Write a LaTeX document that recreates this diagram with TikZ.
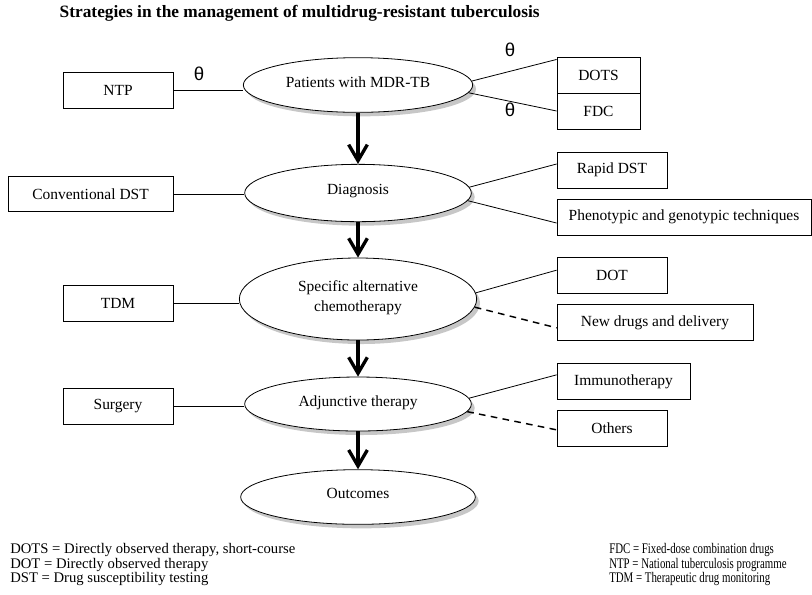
\documentclass[tikz,border=0pt]{standalone}
\usepackage{fontspec}
\setmainfont{Liberation Serif}
\newfontfamily\thetafont{Liberation Sans}
\newfontfamily\keyfont{Liberation Serif}[FakeStretch=0.74]
\usepackage{tikz}
\usetikzlibrary{shapes,arrows,positioning}
\usetikzlibrary{shadows}
\usetikzlibrary{arrows.meta}

\begin{document}
\begin{tikzpicture}[x=0.75pt, y=-0.75pt,
	box/.style={draw, rectangle, line width=0.6pt, minimum height=26.5pt, inner sep=0pt, font=\fontsize{11.6}{13}\selectfont},
	oval/.style={draw, ellipse, fill=white, line width=0.6pt, align=center, inner sep=0pt, text depth=5pt,
		drop shadow={shadow xshift=2.5pt, shadow yshift=-3pt, fill=black!22, opacity=1},
		font=\fontsize{11.6}{15}\selectfont},
	flow/.style={-{Straight Barb[length=12pt, width=14pt]}, line width=2.5pt},
	dashlink/.style={line width=1.1pt, dash pattern=on 5pt off 4pt},
	mark theta/.style={font=\thetafont\fontsize{14}{14}\selectfont},
	legend/.style={align=left, inner sep=0pt, font=\fontsize{11}{9}\selectfont}]
				\useasboundingbox (0,0) rectangle (812,594);
				% title
				\node [anchor=west, font=\bfseries\fontsize{13}{15}\selectfont] (title) at (55,13) {Strategies in the management of multidrug-resistant tuberculosis};
				% main column
				\node [oval, minimum width=172pt, minimum height=41pt]	(patients)	at (358,85)	{Patients with MDR-TB};
				\node [oval, minimum width=170pt, minimum height=43pt]	(diagnosis)	at (358,193)	{Diagnosis};
				\node [oval, minimum width=178pt, minimum height=61.5pt]	(chemo)	at (358,299)	{Specific alternative\\chemotherapy};
				\node [oval, minimum width=170pt, minimum height=40.5pt]	(adjunct)	at (358,404)	{Adjunctive therapy};
				\node [oval, minimum width=176pt, minimum height=41pt]	(outcomes)	at (358,497)	{Outcomes};
				% left boxes
				\node [box, minimum width=82.5pt]	(ntp)		at (118,90.5)	{NTP};
				\node [box, minimum width=123.75pt]	(convdst)	at (90.5,194)	{Conventional DST};
				\node [box, minimum width=82.5pt]	(tdm)		at (118,303.5)	{TDM};
				\node [box, minimum width=82.5pt]	(surgery)	at (118,406.5)	{Surgery};
				% right boxes
				\node [box, minimum width=62.25pt]	(dots)		at (598.5,75.5)	{DOTS};
				\node [box, minimum width=62.25pt, minimum height=27pt]	(fdc)	at (598.5,111)	{FDC};
				\node [box, minimum width=82.5pt, minimum height=27pt]	(rapid)	at (612,170)	{Rapid DST};
				\node [box, minimum width=190.5pt, minimum height=27pt]	(pheno)	at (684,217)	{Phenotypic and genotypic techniques};
				\node [box, minimum width=82.5pt]	(dot)		at (612,275.5)	{DOT};
				\node [box, minimum width=147pt]	(newdrugs)	at (655,322.5)	{New drugs and delivery};
				\node [box, minimum width=99.75pt]	(immuno)	at (623.5,381.5)	{Immunotherapy};
				\node [box, minimum width=82.5pt]	(others)	at (612,428.5)	{Others};
				% thetas
				\node [mark theta] (theta1) at (199,74)	{θ};
				\node [mark theta] (theta2) at (510,50)	{θ};
				\node [mark theta] (theta3) at (510,110)	{θ};
				% arrows
				\draw [flow] (patients) -- (diagnosis);
				\draw [flow] (diagnosis) -- (chemo);
				\draw [flow] (chemo) -- (adjunct);
				\draw [flow] (adjunct) -- (outcomes);
				% links on the left
				\draw [line width=0.6pt] (ntp.east) -- (ntp.east -| patients.west);
				\draw [line width=0.6pt] (convdst.east) -- (convdst.east -| diagnosis.west);
				\draw [line width=0.6pt] (tdm.east) -- (tdm.east -| chemo.west);
				\draw [line width=0.6pt] (surgery.east) -- (surgery.east -| adjunct.west);
				% links on the right
				\draw [line width=0.6pt] (patients.2) -- ([yshift=-1.5pt]dots.north west);
				\draw [line width=0.6pt] (patients.-4) -- (fdc.west);
				\draw [line width=0.6pt] (diagnosis.3) -- ([yshift=4.5pt]rapid.west);
				\draw [line width=0.6pt] (diagnosis.-4) -- ([yshift=-4.5pt]pheno.west);
				\draw [line width=0.6pt] (chemo.3) -- ([yshift=4pt]dot.west);
				\draw [dashlink] (chemo.-4) -- ([yshift=-4pt]newdrugs.west);
				\draw [line width=0.6pt] (adjunct.3) -- ([yshift=5pt]immuno.west);
				\draw [dashlink] (adjunct.-4) -- ([yshift=-1pt]others.west);
				% key
				\node [legend, anchor=north west] (keyleft) at (10,543) {DOTS = Directly observed therapy, short-course\\DOT = Directly observed therapy\\DST = Drug susceptibility testing};
				\node [legend, anchor=north west, font=\keyfont\fontsize{11}{9}\selectfont] (keyright) at (609,543) {FDC = Fixed-dose combination drugs\\NTP = National tuberculosis programme\\TDM = Therapeutic drug monitoring};
\end{tikzpicture}
\end{document}
